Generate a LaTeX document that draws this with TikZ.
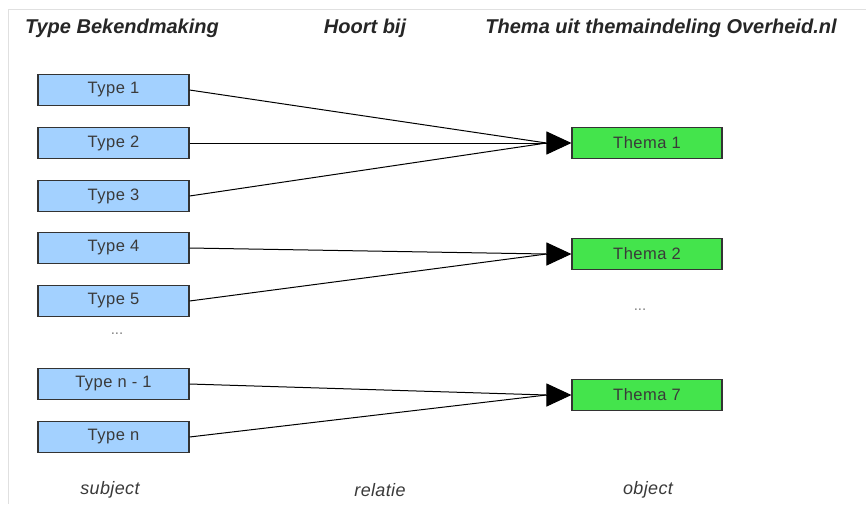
\documentclass[tikz,border=0pt]{standalone}
\usepackage{fontspec}
\setmainfont{Liberation Sans}
\usetikzlibrary{arrows.meta,calc}
\definecolor{typefill}{HTML}{A3D1FF}
\definecolor{themafill}{HTML}{44E44C}
\definecolor{boxline}{HTML}{333333}
\definecolor{txt}{HTML}{3A3A3A}
\tikzset{
  typebox/.style={draw=boxline, line width=1.1pt, fill=typefill, minimum width=151pt, minimum height=31pt, inner sep=0pt,
    font=\fontsize{16.5}{18}\selectfont\addfontfeature{LetterSpace=3}, text=txt},
  themabox/.style={draw=boxline, line width=1.1pt, fill=themafill, minimum width=150pt, minimum height=31pt, inner sep=0pt,
    font=\fontsize{16.5}{18}\selectfont\addfontfeature{LetterSpace=3}, text=txt},
  head/.style={font=\fontsize{20}{24}\selectfont\bfseries\itshape, text=black!85},
  foot/.style={font=\fontsize{18}{20}\selectfont\itshape\addfontfeature{LetterSpace=2}, text=txt},
  dots/.style={font=\fontsize{15}{16}\selectfont, text=gray},
  conn/.style={line width=1pt, black},
  tip/.style={line width=1pt, -{Triangle[length=25pt,width=23pt]}},
}
\begin{document}
\begin{tikzpicture}[x=1pt,y=-1pt]
\path[use as bounding box, fill=white] (0,0) rectangle (866,504);
\draw[black!12, line width=1pt] (8,504) -- (8,9) -- (866,9);

\node[head] (h1) at (122,28) {Type Bekendmaking};
\node[head] (h2) at (365,28) {Hoort bij};
\node[head] (h3) at (661,28) {Thema uit themaindeling Overheid.nl};

\node[typebox] (ty1) at (113.5,90) {Type 1};
\node[typebox] (ty2) at (113.5,143) {Type 2};
\node[typebox] (ty3) at (113.5,196) {Type 3};
\node[typebox] (ty4) at (113.5,248) {Type 4};
\node[typebox] (ty5) at (113.5,301) {Type 5};
\node[dots] (d1) at (117,334) {...};
\node[typebox] (tyn1) at (113.5,384) {Type n - 1};
\node[typebox] (tyn) at (113.5,437) {Type n};

\node[themabox] (th1) at (647,143) {Thema 1};
\node[themabox] (th2) at (647,254) {Thema 2};
\node[dots] (d2) at (640,310) {...};
\node[themabox] (th7) at (647,395) {Thema 7};

\coordinate (b1) at ($(th1.west)+(-25,0)$);
\coordinate (b2) at ($(th2.west)+(-25,0)$);
\coordinate (b7) at ($(th7.west)+(-25,0)$);

\draw[conn] (ty1.east) -- (b1);
\draw[conn] (ty2.east) -- (b1);
\draw[conn] (ty3.east) -- (b1);
\draw[conn] (ty4.east) -- (b2);
\draw[conn] (ty5.east) -- (b2);
\draw[conn] (tyn1.east) -- (b7);
\draw[conn] (tyn.east) -- (b7);
\draw[tip] (b1) -- (th1.west);
\draw[tip] (b2) -- (th2.west);
\draw[tip] (b7) -- (th7.west);

\node[foot] (f1) at (110,490) {subject};
\node[foot] (f2) at (380,490) {relatie};
\node[foot] (f3) at (648,490) {object};
\end{tikzpicture}
\end{document}
